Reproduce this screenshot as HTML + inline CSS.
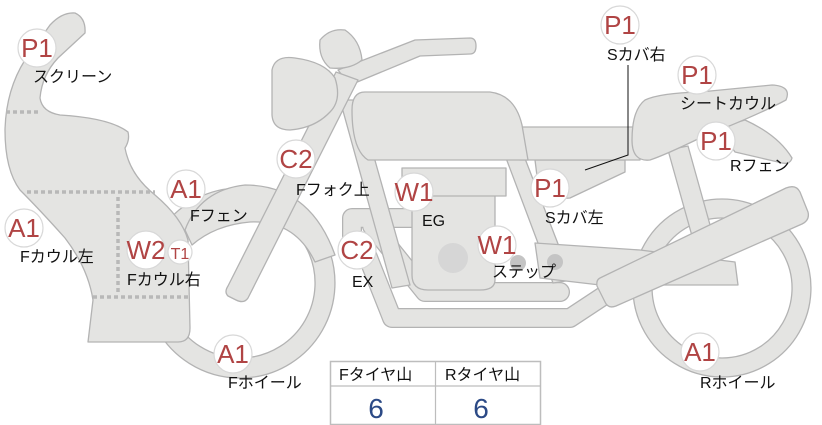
<!DOCTYPE html>
<html><head><meta charset="utf-8"><style>
html,body{margin:0;padding:0;background:#fff;}
svg{display:block;}
.s{fill:#e4e4e2;stroke:#b3b3b3;stroke-width:1.3;stroke-linejoin:round;}
.b{fill:#fff;stroke:#d8d8d8;stroke-width:1.2;}
.bt{font-family:"Liberation Sans",sans-serif;font-size:26px;fill:#b04444;text-anchor:middle;}
.l{font-family:"Liberation Sans","Noto Sans CJK JP",sans-serif;font-size:16px;fill:#111;}
</style></head><body>
<svg width="822" height="425" viewBox="0 0 822 425" xmlns="http://www.w3.org/2000/svg">
<path class="s" fill-rule="evenodd" d="M240,188 a95,95 0 1,1 -0.1,0 Z M240,208 a75,75 0 1,0 0.1,0 Z"/>
<path class="s" d="M185,230 Q200,190 245,185 Q310,185 335,255 L315,262 Q295,220 250,222 Q215,225 192,245 Z"/>
<path class="s" fill-rule="evenodd" d="M722,199 a89,89 0 1,1 -0.1,0 Z M722,218 a70,70 0 1,0 0.1,0 Z"/>
<path d="M352,245 L352,218 L415,218 M372,226 L425,292 L560,292 M365,250 L392,318 L570,318 L620,285" fill="none" stroke="#b3b3b3" stroke-width="20" stroke-linejoin="round" stroke-linecap="round"/>
<path d="M352,245 L352,218 L415,218 M372,226 L425,292 L560,292 M365,250 L392,318 L570,318 L620,285" fill="none" stroke="#e4e4e2" stroke-width="17.5" stroke-linejoin="round" stroke-linecap="round"/>
<path class="s" d="M340,100 L358,100 L410,285 L392,288 Z"/>
<path class="s" d="M506,158 L524,156 L572,280 L553,283 Z"/>
<path class="s" d="M412,190 L495,190 L495,280 Q495,290 480,290 L428,290 Q412,290 412,275 Z"/>
<rect class="s" x="402" y="168" width="104" height="28"/>
<circle cx="453" cy="258" r="15" fill="#d6d6d6"/>
<path class="s" d="M535,243 L640,250 L735,262 L738,285 L600,285 L540,278 Z"/>
<circle cx="518" cy="263" r="8" fill="#c4c4c4"/>
<circle cx="555" cy="262" r="8" fill="#c4c4c4"/>
<path class="s" d="M668,150 L688,146 L712,232 L692,236 Z"/>
<path class="s" d="M600,278 L786,188 Q796,184 800,192 L808,212 Q810,220 802,224 L616,306 Q608,309 605,302 L597,286 Q596,280 600,278 Z"/>
<path class="s" d="M535,160 L625,160 L625,172 L570,198 L540,200 Z"/>
<path class="s" d="M512,135 Q512,127 522,127 L640,127 L640,160 L520,160 Q512,158 512,150 Z"/>
<path class="s" d="M718,128 L745,120 Q778,135 792,158 Q790,166 778,162 L735,152 Z"/>
<path class="s" d="M645,100 Q660,93 700,92 L772,85 Q792,86 786,100 Q760,114 700,138 Q665,155 650,160 Q632,162 632,140 Q632,110 645,100 Z"/>
<path class="s" d="M365,92 L490,92 Q515,95 522,125 L528,160 L368,160 Q352,150 352,110 Q352,92 365,92 Z"/>
<path class="s" d="M338,70 L415,40 L470,38 Q476,38 476,46 Q476,54 470,54 L420,56 L350,85 Z"/>
<path class="s" d="M320,40 Q330,28 345,30 Q360,40 362,60 Q350,70 330,68 Q318,58 320,40 Z"/>
<path class="s" d="M336,72 L358,80 L248,298 Q244,304 236,300 L228,296 Q224,292 228,286 Z"/>
<path class="s" d="M272,70 Q275,55 295,58 Q325,62 335,78 Q342,100 330,112 Q315,128 290,130 Q273,130 272,115 Z"/>
<path class="s" d="M50,25 Q62,12 75,13 Q86,18 85,33 L58,58 Q42,75 40,98 Q42,112 60,115 Q110,118 128,132 Q130,140 125,148 Q130,175 155,195 Q182,218 188,240 L190,328 Q190,342 178,342 L88,342 L93,300 Q88,268 65,238 Q40,210 20,190 Q5,170 5,130 Q6,90 25,60 Z"/>
<g stroke="#b8b8b8" stroke-width="3.5" stroke-dasharray="4,3" fill="none">
<line x1="6" y1="112" x2="40" y2="112"/>
<line x1="27" y1="192" x2="155" y2="192"/>
<line x1="118" y1="197" x2="118" y2="294"/>
<line x1="93" y1="297" x2="188" y2="297"/>
</g>
<path d="M628,65 L628,155 L585,170" fill="none" stroke="#111" stroke-width="1"/>
<g>
<circle class="b" cx="37" cy="48" r="19"/><text class="bt" x="37" y="57">P1</text>
<circle class="b" cx="24" cy="228" r="19"/><text class="bt" x="24" y="237">A1</text>
<circle class="b" cx="186" cy="189" r="19"/><text class="bt" x="186" y="198">A1</text>
<circle class="b" cx="146" cy="250" r="19"/><text class="bt" x="146" y="259">W2</text>
<circle class="b" cx="180" cy="252" r="12"/><text class="bt" x="180" y="259" style="font-size:16px">T1</text>
<circle class="b" cx="296" cy="159" r="19"/><text class="bt" x="296" y="168">C2</text>
<circle class="b" cx="357" cy="250" r="19"/><text class="bt" x="357" y="259">C2</text>
<circle class="b" cx="233" cy="354" r="19"/><text class="bt" x="233" y="363">A1</text>
<circle class="b" cx="414" cy="192" r="19"/><text class="bt" x="414" y="201">W1</text>
<circle class="b" cx="497" cy="245" r="19"/><text class="bt" x="497" y="254">W1</text>
<circle class="b" cx="550" cy="188" r="19"/><text class="bt" x="550" y="197">P1</text>
<circle class="b" cx="620" cy="25" r="19"/><text class="bt" x="620" y="34">P1</text>
<circle class="b" cx="697" cy="75" r="19"/><text class="bt" x="697" y="84">P1</text>
<circle class="b" cx="716" cy="141" r="19"/><text class="bt" x="716" y="150">P1</text>
<circle class="b" cx="700" cy="352" r="19"/><text class="bt" x="700" y="361">A1</text>
</g>
<g class="l">
<text x="33" y="82">スクリーン</text>
<text x="20" y="262">Fカウル左</text>
<text x="190" y="221">Fフェン</text>
<text x="127" y="285">Fカウル右</text>
<text x="296" y="195">Fフォク上</text>
<text x="352" y="287">EX</text>
<text x="228" y="388">Fホイール</text>
<text x="422" y="226">EG</text>
<text x="492" y="277">ステップ</text>
<text x="545" y="223">Sカバ左</text>
<text x="607" y="60">Sカバ右</text>
<text x="680" y="109">シートカウル</text>
<text x="730" y="171">Rフェン</text>
<text x="700" y="388">Rホイール</text>
</g>
<rect x="330.5" y="361.5" width="210" height="63" fill="#fff" stroke="#bdbdbd" stroke-width="1.5"/>
<line x1="330" y1="386" x2="541" y2="386" stroke="#bdbdbd" stroke-width="1.2"/>
<line x1="435.5" y1="362" x2="435.5" y2="425" stroke="#bdbdbd" stroke-width="1.2"/>
<g class="l"><text x="339" y="380">Fタイヤ山</text><text x="445" y="380">Rタイヤ山</text></g>
<g style="font-family:'Liberation Sans',sans-serif;font-size:28px;fill:#2c4a86" text-anchor="middle"><text x="376" y="418">6</text><text x="481" y="418">6</text></g>
</svg>
</body></html>
